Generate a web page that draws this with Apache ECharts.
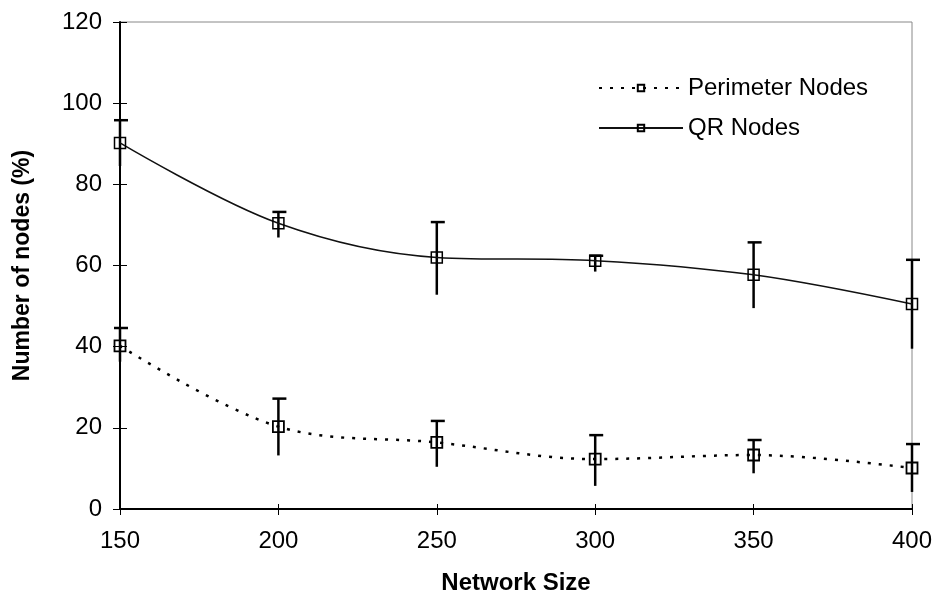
<!DOCTYPE html>
<html>
<head>
<meta charset="utf-8">
<style type="text/css">
html, body{margin: 0; padding: 0; background: #fff}
#chart{width: 936px; height: 600px}
</style>
<script src="https://cdn.jsdelivr.net/npm/echarts@6/dist/echarts.min.js"></script>
</head>
<body>
<div id="chart"></div>
<script type="text/javascript">
// values
var sizes = [150, 200, 250, 300, 350, 400];
var qrNodes = [90.2, 70.4, 62.0, 61.2, 57.7, 50.5];
var qrHigh = [95.8, 73.2, 70.7, 62.4, 65.7, 61.4];
var qrLow = [84.5, 66.9, 52.8, 58.5, 49.5, 39.5];
var perimNodes = [40.2, 20.3, 16.4, 12.3, 13.3, 10.1];
var perimHigh = [44.6, 27.2, 21.7, 18.2, 17.0, 16.0];
var perimLow = [36.3, 13.2, 10.4, 5.7, 8.8, 4.2];
var yTicks = [0, 20, 40, 60, 80, 100, 120];

var chart = echarts.init(document.getElementById("chart"));
var font = 'Liberation Sans, Arial, sans-serif';

function pairs(ys){
    return sizes.map(function(x, i){ return [x, ys[i]]; });
}
function bars(lo, hi){
    return sizes.map(function(x, i){ return [x, lo[i], hi[i]]; });
}

// vertical error bar, cap on top only
function errorBar(params, api){
    var x = api.value(0);
    var top = api.coord([x, api.value(2)]);
    var bot = api.coord([x, api.value(1)]);
    var st = {stroke: '#000', lineWidth: 2.5};
    return {
        type: 'group',
        children: [
            {type: 'line', shape: {x1: top[0], y1: top[1], x2: bot[0], y2: bot[1]}, style: st},
            {type: 'line', shape: {x1: top[0] - 6, y1: top[1], x2: top[0] + 8, y2: top[1]}, style: st}
        ]
    };
}

var axisLine = {show: true, lineStyle: {color: '#000', width: 2}};

option = {
    animation: false,
    grid: {
        left: 120,
        right: 24,
        top: 22,
        bottom: 89,
        show: true,
        borderColor: '#888',
        borderWidth: 1
    },
    legend: {
        orient: 'vertical',
        left: 593,
        top: 70,
        itemWidth: 84,
        itemHeight: 8,
        itemGap: 14,
        data: ['Perimeter Nodes', 'QR Nodes'],
        textStyle: {fontFamily: font, fontSize: 24, color: '#000', lineHeight: 26}
    },
    xAxis: [{
        type: 'value',
        min: 150,
        max: 400,
        interval: 50,
        name: 'Network Size',
        nameLocation: 'middle',
        nameGap: 62,
        nameTextStyle: {fontFamily: font, fontSize: 24, fontWeight: 'bold', color: '#000'},
        axisLine: axisLine,
        axisTick: {show: true, length: 6, lineStyle: {color: '#000'}},
        axisLabel: {fontFamily: font, fontSize: 24, color: '#000', margin: 20},
        splitLine: {show: false}
    }, {
        type: 'value',
        min: 150,
        max: 400,
        interval: 50,
        position: 'bottom',
        axisLine: {show: false},
        axisTick: {show: true, inside: true, length: 5, lineStyle: {color: '#000'}},
        axisLabel: {show: false},
        splitLine: {show: false}
    }],
    yAxis: [{
        type: 'value',
        min: yTicks[0],
        max: yTicks[yTicks.length - 1],
        interval: 20,
        name: 'Number of nodes (%)',
        nameLocation: 'middle',
        nameGap: 86,
        nameTextStyle: {fontFamily: font, fontSize: 23, fontWeight: 'bold', color: '#000'},
        axisLine: axisLine,
        axisTick: {show: true, length: 7, lineStyle: {color: '#000'}},
        axisLabel: {fontFamily: font, fontSize: 24, color: '#000', margin: 18},
        splitLine: {show: false}
    }, {
        type: 'value',
        min: yTicks[0],
        max: yTicks[yTicks.length - 1],
        interval: 20,
        position: 'left',
        axisLine: {show: false},
        axisTick: {show: true, inside: true, length: 7, lineStyle: {color: '#000'}},
        axisLabel: {show: false},
        splitLine: {show: false}
    }],
    series: [
        {
            type: 'custom',
            renderItem: errorBar,
            data: bars(perimLow, perimHigh),
            z: 3
        },
        {
            type: 'custom',
            renderItem: errorBar,
            data: bars(qrLow, qrHigh),
            z: 3
        },
        {
            name: 'Perimeter Nodes',
            type: 'line',
            smooth: 0.35,
            data: pairs(perimNodes),
            symbol: 'rect',
            symbolSize: 11,
            lineStyle: {color: '#000', width: 2.5, type: [3, 8]},
            itemStyle: {color: 'transparent', borderColor: '#000', borderWidth: 1.8},
            z: 4
        },
        {
            name: 'QR Nodes',
            type: 'line',
            smooth: 0.35,
            data: pairs(qrNodes),
            symbol: 'rect',
            symbolSize: 11,
            lineStyle: {color: '#111', width: 1.5},
            itemStyle: {color: 'transparent', borderColor: '#000', borderWidth: 1.5},
            z: 4
        }
    ]
};

if (option && typeof option === "object") {
    chart.setOption(option, true);
}
</script>
</body>
</html>
